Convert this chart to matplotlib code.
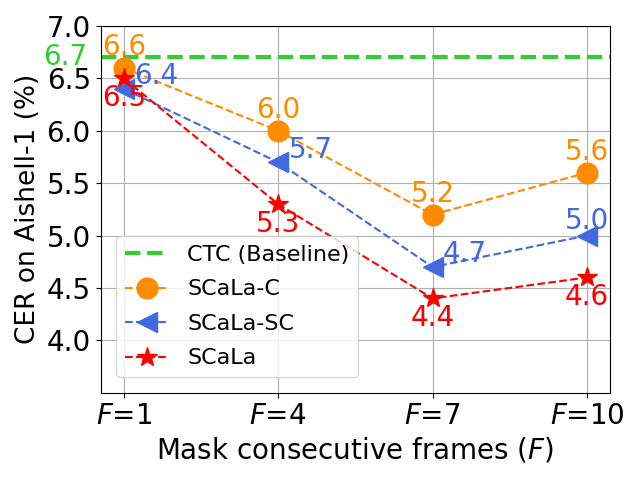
import matplotlib
matplotlib.use("Agg")
import matplotlib.pyplot as plt

frames = [1, 4, 7, 10]
xticklabels = ["$F$=1", "$F$=4", "$F$=7", "$F$=10"]
ctc_baseline = 6.7
scala_c = [6.6, 6.0, 5.2, 5.6]
scala_sc = [6.4, 5.7, 4.7, 5.0]
scala = [6.5, 5.3, 4.4, 4.6]

fig, ax = plt.subplots(figsize=(6.4, 4.8), dpi=100)

ax.axhline(ctc_baseline, color="limegreen", linestyle="--", linewidth=3,
           label="CTC (Baseline)", zorder=2)
ax.plot(frames, scala_c, color="darkorange", linestyle="--", marker="o",
        markersize=15, label="SCaLa-C", zorder=3)
ax.plot(frames, scala_sc, color="royalblue", linestyle="--", marker="<",
        markersize=15, label="SCaLa-SC", zorder=3)
ax.plot(frames, scala, color="red", linestyle="--", marker="*",
        markersize=15, label="SCaLa", zorder=4)

# value labels
ax.text(0.3, ctc_baseline, f"{ctc_baseline:.1f}", color="limegreen",
        fontsize=20, ha="right", va="center")
for x, y in zip(frames, scala_c):
    ax.text(x, y + 0.2, f"{y:.1f}", color="darkorange", fontsize=20,
            ha="center", va="center")
for i, (x, y) in enumerate(zip(frames, scala_sc)):
    if i == len(frames) - 1:
        ax.text(x, y + 0.14, f"{y:.1f}", color="royalblue", fontsize=20,
                ha="center", va="center")
    else:
        ax.text(x + 0.2, y + 0.12, f"{y:.1f}", color="royalblue", fontsize=20,
                ha="left", va="center")
for x, y in zip(frames, scala):
    ax.text(x, y - 0.19, f"{y:.1f}", color="red", fontsize=20,
            ha="center", va="center")

ax.set_ylim(3.5, 7.0)
ax.set_yticks([4.0, 4.5, 5.0, 5.5, 6.0, 6.5, 7.0])
ax.set_xticks(frames)
ax.set_xticklabels(xticklabels)
ax.tick_params(labelsize=20)
ax.set_xlabel("Mask consecutive frames ($F$)", fontsize=20)
ax.set_ylabel("CER on Aishell-1 (%)", fontsize=19)
ax.grid(True)
ax.legend(loc="lower left", fontsize=16, labelspacing=0.65,
          borderaxespad=0.7)

fig.tight_layout()
fig.savefig("out.png", dpi=100)
